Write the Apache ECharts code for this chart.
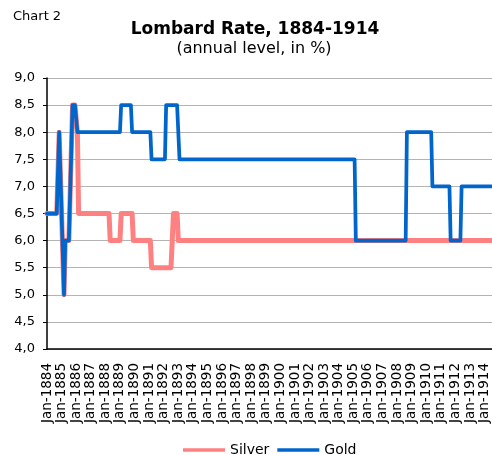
<!DOCTYPE html>
<html>
<head>
<meta charset="utf-8">
<script src="https://cdn.jsdelivr.net/npm/echarts/dist/echarts.min.js"></script>
<style>
html,body{margin:0;padding:0;background:#fff;}
#c{width:492px;height:455px;}
</style>
</head>
<body>
<div id="c"></div>
<script>
const xTickLabels = ['Jan-1884','Jan-1885','Jan-1886','Jan-1887','Jan-1888','Jan-1889','Jan-1890','Jan-1891','Jan-1892','Jan-1893','Jan-1894','Jan-1895','Jan-1896','Jan-1897','Jan-1898','Jan-1899','Jan-1900','Jan-1901','Jan-1902','Jan-1903','Jan-1904','Jan-1905','Jan-1906','Jan-1907','Jan-1908','Jan-1909','Jan-1910','Jan-1911','Jan-1912','Jan-1913','Jan-1914'];
const yTickLabels = ['4,0','4,5','5,0','5,5','6,0','6,5','7,0','7,5','8,0','8,5','9,0'];

const silverDates = ['1884-01','1884-09','1884-11','1885-03','1885-04','1885-07','1885-10','1885-12','1886-02','1886-03','1888-04','1888-05','1889-01','1889-02','1889-11','1889-12','1891-02','1891-03','1892-07','1892-09','1892-12','1893-01','1914-07'];
const silverRates = [6.5,6.5,8.0,5.0,6.0,6.0,8.5,8.5,8.0,6.5,6.5,6.0,6.0,6.5,6.5,6.0,6.0,5.5,5.5,6.5,6.5,6.0,6.0];

const goldDates = ['1884-01','1884-09','1884-11','1885-03','1885-04','1885-07','1885-10','1885-12','1886-02','1889-01','1889-02','1889-10','1889-11','1891-02','1891-03','1892-02','1892-03','1892-12','1893-02','1905-02','1905-03','1908-08','1908-09','1910-05','1910-06','1911-08','1911-09','1912-05','1912-06','1914-07'];
const goldRates = [6.5,6.5,8.0,5.0,6.0,6.0,8.5,8.5,8.0,8.0,8.5,8.5,8.0,8.0,7.5,7.5,8.5,8.5,7.5,7.5,6.0,6.0,8.0,8.0,7.0,7.0,6.0,6.0,7.0,7.0];

const startYear = 1884;
function monthIndex(d){ const p = d.split('-'); return (parseInt(p[0]) - startYear) * 12 + (parseInt(p[1]) - 1); }
function pairs(dates, vals){ return dates.map((d,i)=>[monthIndex(d), vals[i]]); }
const lastMonth = monthIndex(goldDates[goldDates.length-1]);

const FONT = '"DejaVu Sans", sans-serif';
const chart = echarts.init(document.getElementById('c'), null, {renderer:'canvas'});
chart.setOption({
  animation: false,
  backgroundColor: '#fff',
  graphic: [
    {type:'text', left: 13, top: 10, style:{text:'Chart 2', font:'13px ' + FONT, fill:'#000'}},
    {type:'text', x: 255, y: 30, style:{text:'Lombard Rate, 1884-1914', font:'bold 17px ' + FONT, fill:'#000', align:'center', verticalAlign:'middle'}},
    {type:'text', x: 254, y: 49, style:{text:'(annual level, in %)', font:'16px ' + FONT, fill:'#000', align:'center', verticalAlign:'middle'}}
  ],
  legend: {
    left: 183, top: 443, padding: 0,
    itemWidth: 42, itemHeight: 3.5, itemGap: 8,
    icon: 'rect',
    textStyle: {fontFamily: FONT, fontSize: 14, color:'#000'},
    data: ['Silver','Gold']
  },
  grid: {left: 47, right: 0, top: 78, bottom: 106, containLabel: false},
  xAxis: {
    type: 'value', min: 0, max: lastMonth, interval: 12,
    axisLine: {show: true, onZero: false, lineStyle: {color:'#000', width: 1.5}},
    axisTick: {show: false},
    splitLine: {show: false},
    axisLabel: {
      rotate: 90, margin: 14, fontFamily: FONT, fontSize: 13.5, color:'#000',
      showMaxLabel: false,
      formatter: v => (v % 12 === 0 && xTickLabels[v/12]) ? xTickLabels[v/12] : ''
    }
  },
  yAxis: {
    type: 'value', min: 4, max: 9, interval: 0.5,
    axisLine: {show: true, lineStyle: {color:'#000', width: 1.5}},
    axisTick: {show: true, length: 4, lineStyle:{color:'#000'}},
    splitLine: {show: true, lineStyle: {color:'#b4b4b4', width: 1}},
    axisLabel: {margin: 12, fontFamily: FONT, fontSize: 13, color:'#000',
      formatter: v => yTickLabels[Math.round((v - 4) / 0.5)]}
  },
  series: [
    {name:'Silver', type:'line', showSymbol:false, symbol:'none', color:'#ff8080',
     lineStyle:{width:5, color:'#ff8080', join:'round', cap:'round'},
     data: pairs(silverDates, silverRates)},
    {name:'Gold', type:'line', showSymbol:false, symbol:'none', color:'#0066cc',
     lineStyle:{width:3.75, color:'#0066cc', join:'round', cap:'round'},
     data: pairs(goldDates, goldRates)}
  ]
});
</script>
</body>
</html>
